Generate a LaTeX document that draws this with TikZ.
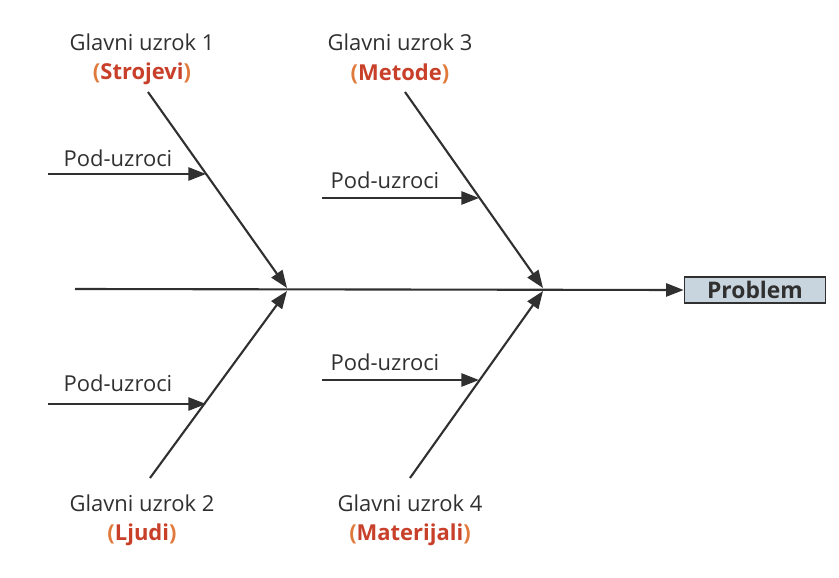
\documentclass[tikz,border=0pt]{standalone}
\usepackage{fontspec}
\setmainfont{Open Sans}
\usetikzlibrary{arrows.meta}
\definecolor{bone}{HTML}{303030}
\definecolor{cause}{HTML}{C8402A}
\definecolor{paren}{HTML}{E07A3C}
\definecolor{boxfill}{HTML}{C9D5DE}
\tikzset{
  spine/.style={draw=bone, line width=1.2pt, -{Triangle[length=10pt,width=7.5pt]}},
  sub/.style={draw=bone, line width=1.1pt, -{Triangle[length=10pt,width=7.5pt]}},
  lbl/.style={font=\fontsize{12.5}{14}\selectfont, text=bone, inner sep=0pt},
  kind/.style={font=\fontsize{12.5}{14}\selectfont\bfseries, text=cause, inner sep=0pt},
}
\newcommand{\kindname}[1]{\textcolor{paren}{(}#1\textcolor{paren}{)}}
\begin{document}
\begin{tikzpicture}[x=0.02cm, y=-0.02cm]
\useasboundingbox (0,0) rectangle (839,578);
% problem head
\node [draw=bone, line width=1pt, fill=boxfill, minimum width=2.82cm, inner sep=0pt,
  minimum height=0.52cm, font=\fontsize{13}{14}\selectfont\bfseries, text=bone]
  (problem) at (755,290) {Problem};
% main causes
\node [lbl] (glavni1) at (142,42) {Glavni uzrok 1};
\node [kind] (kind1) at (142,74) {\kindname{Strojevi}};
\node [lbl] (glavni3) at (400,42) {Glavni uzrok 3};
\node [kind] (kind3) at (400,74) {\kindname{Metode}};
\node [lbl] (glavni2) at (142,503) {Glavni uzrok 2};
\node [kind] (kind2) at (142,535) {\kindname{Ljudi}};
\node [lbl] (glavni4) at (410,503) {Glavni uzrok 4};
\node [kind] (kind4) at (410,535) {\kindname{Materijali}};
% bone ends
\coordinate (tail) at (75,289);
\coordinate (top1) at (148,92);
\coordinate (bot2) at (150,478);
\coordinate (top3) at (405,92);
\coordinate (bot4) at (410,478);
\coordinate (join1) at (287,288);
\coordinate (join2) at (287,291);
\coordinate (join3) at (543,288);
\coordinate (join4) at (543,291);
% backbone
\draw [spine] (tail) -- (problem.west);
\draw [spine] (top1) -- (join1);
\draw [spine] (bot2) -- (join2);
\draw [spine] (top3) -- (join3);
\draw [spine] (bot4) -- (join4);
% sub-causes
\coordinate (from1) at (48,174);
\coordinate (to1) at (206,174);
\coordinate (from2) at (48,404);
\coordinate (to2) at (206,404);
\coordinate (from3) at (322,198);
\coordinate (to3) at (479,198);
\coordinate (from4) at (322,380);
\coordinate (to4) at (479,380);
\draw [sub] (from1) -- (to1);
\draw [sub] (from2) -- (to2);
\draw [sub] (from3) -- (to3);
\draw [sub] (from4) -- (to4);
\node [lbl] (pod1) at (118,158) {Pod-uzroci};
\node [lbl] (pod2) at (118,383) {Pod-uzroci};
\node [lbl] (pod3) at (385,180) {Pod-uzroci};
\node [lbl] (pod4) at (385,362) {Pod-uzroci};
\end{tikzpicture}
\end{document}
